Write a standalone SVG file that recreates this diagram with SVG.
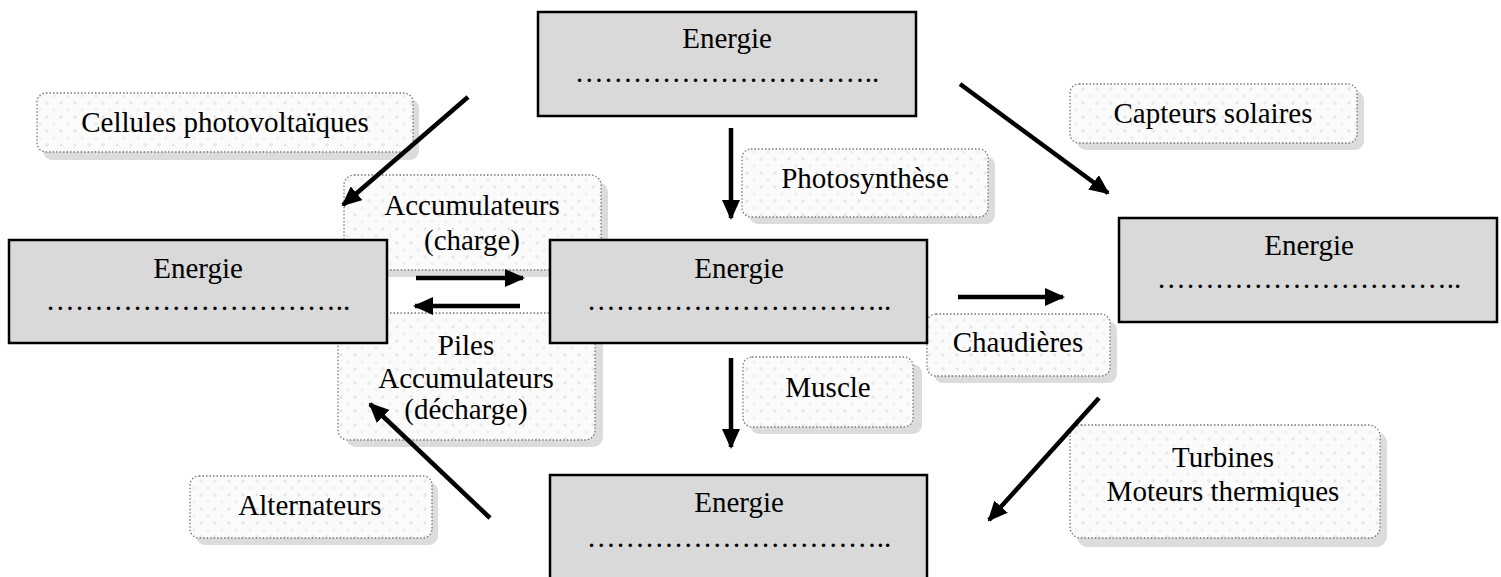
<svg xmlns="http://www.w3.org/2000/svg" width="1501" height="577" viewBox="0 0 1501 577" font-family="'Liberation Serif', 'Times New Roman', serif">
<style>
text{font-family:'Liberation Serif','Times New Roman',serif;font-size:29px;fill:#000;text-anchor:middle}
.box{fill:#d9d9d9;stroke:#000;stroke-width:2.5}
.lab{fill:url(#dots);stroke:#777;stroke-width:1.3;stroke-dasharray:1.5 2}
.sh{fill:#dcdcdc}
.arr{stroke:#000;stroke-width:4.5;fill:none;marker-end:url(#ah)}
</style>
<defs>
<pattern id="dots" width="14" height="14" patternUnits="userSpaceOnUse">
<rect width="14" height="14" fill="#fbfbfb"/>
<path d="M3 5h4M5 3v4" stroke="#e4e4e4" stroke-width="1.2"/>
<path d="M10 12h4M12 10v4" stroke="#ebebeb" stroke-width="1"/>
</pattern>
<marker id="ah" markerUnits="userSpaceOnUse" markerWidth="20" markerHeight="18" refX="18" refY="9" orient="auto">
<path d="M0 0L20 9L0 18z" fill="#000"/>
</marker>
</defs>

<g id="label-cellules">
<rect class="sh" x="43" y="99" width="376" height="61" rx="9"/>
<rect class="lab" x="37" y="93" width="376" height="59" rx="9"/>
<text x="225" y="132">Cellules photovoltaïques</text>
</g>
<g id="label-capteurs">
<rect class="sh" x="1077" y="91" width="287" height="59" rx="9"/>
<rect class="lab" x="1070" y="84" width="287" height="59" rx="9"/>
<text x="1213" y="123">Capteurs solaires</text>
</g>
<g id="label-photosynthese">
<rect class="sh" x="749" y="156" width="246" height="68" rx="9"/>
<rect class="lab" x="742" y="149" width="246" height="68" rx="9"/>
<text x="865" y="188">Photosynthèse</text>
</g>
<g id="label-accu-charge">
<rect class="sh" x="351" y="182" width="257" height="95" rx="10"/>
<rect class="lab" x="344" y="175" width="257" height="95" rx="10"/>
<text x="472" y="215">Accumulateurs</text>
<text x="472" y="250">(charge)</text>
</g>
<g id="label-piles">
<rect class="sh" x="346" y="320" width="257" height="127" rx="10"/>
<rect class="lab" x="338" y="313" width="257" height="127" rx="10"/>
<text x="466" y="355">Piles</text>
<text x="466" y="388">Accumulateurs</text>
<text x="466" y="419">(décharge)</text>
</g>
<g id="label-chaudieres">
<rect class="sh" x="934" y="321" width="183" height="62" rx="9"/>
<rect class="lab" x="927" y="314" width="183" height="62" rx="9"/>
<text x="1018" y="352">Chaudières</text>
</g>
<g id="label-muscle">
<rect class="sh" x="750" y="364" width="172" height="70" rx="9"/>
<rect class="lab" x="743" y="357" width="170" height="70" rx="9"/>
<text x="828" y="397">Muscle</text>
</g>
<g id="label-turbines">
<rect class="sh" x="1077" y="432" width="310" height="115" rx="11"/>
<rect class="lab" x="1070" y="425" width="310" height="113" rx="11"/>
<text x="1223" y="467">Turbines</text>
<text x="1223" y="501">Moteurs thermiques</text>
</g>
<g id="label-alternateurs">
<rect class="sh" x="196" y="482" width="242" height="63" rx="9"/>
<rect class="lab" x="190" y="476" width="242" height="62" rx="9"/>
<text x="310" y="515">Alternateurs</text>
</g>

<g id="node-top">
<rect class="box" x="538" y="12" width="378" height="104"/>
<text x="727" y="48">Energie</text>
<text x="727" y="82">&#8230;&#8230;&#8230;&#8230;&#8230;&#8230;&#8230;&#8230;&#8230;&#8230;..</text>
</g>
<g id="node-left">
<rect class="box" x="9" y="240" width="378" height="103"/>
<text x="198" y="278">Energie</text>
<text x="198" y="310">&#8230;&#8230;&#8230;&#8230;&#8230;&#8230;&#8230;&#8230;&#8230;&#8230;..</text>
</g>
<g id="node-center">
<rect class="box" x="550" y="240" width="377" height="103"/>
<text x="739" y="278">Energie</text>
<text x="739" y="310">&#8230;&#8230;&#8230;&#8230;&#8230;&#8230;&#8230;&#8230;&#8230;&#8230;..</text>
</g>
<g id="node-right">
<rect class="box" x="1119" y="218" width="378" height="104"/>
<text x="1309" y="255">Energie</text>
<text x="1309" y="288">&#8230;&#8230;&#8230;&#8230;&#8230;&#8230;&#8230;&#8230;&#8230;&#8230;..</text>
</g>
<g id="node-bottom">
<rect class="box" x="550" y="475" width="377" height="115"/>
<text x="739" y="512">Energie</text>
<text x="739" y="547">&#8230;&#8230;&#8230;&#8230;&#8230;&#8230;&#8230;&#8230;&#8230;&#8230;..</text>
</g>

<g id="connectors">
<line class="arr" x1="468" y1="97" x2="343" y2="205"/>
<line class="arr" x1="960" y1="84" x2="1108" y2="193"/>
<line class="arr" x1="731" y1="128" x2="731" y2="218"/>
<line class="arr" x1="416" y1="278" x2="523" y2="278"/>
<line class="arr" x1="520" y1="306" x2="415" y2="306"/>
<line class="arr" x1="958" y1="297" x2="1063" y2="297"/>
<line class="arr" x1="731" y1="358" x2="731" y2="447"/>
<line class="arr" x1="1099" y1="398" x2="989" y2="520"/>
<line class="arr" x1="490" y1="518" x2="370" y2="404"/>
</g>
</svg>
